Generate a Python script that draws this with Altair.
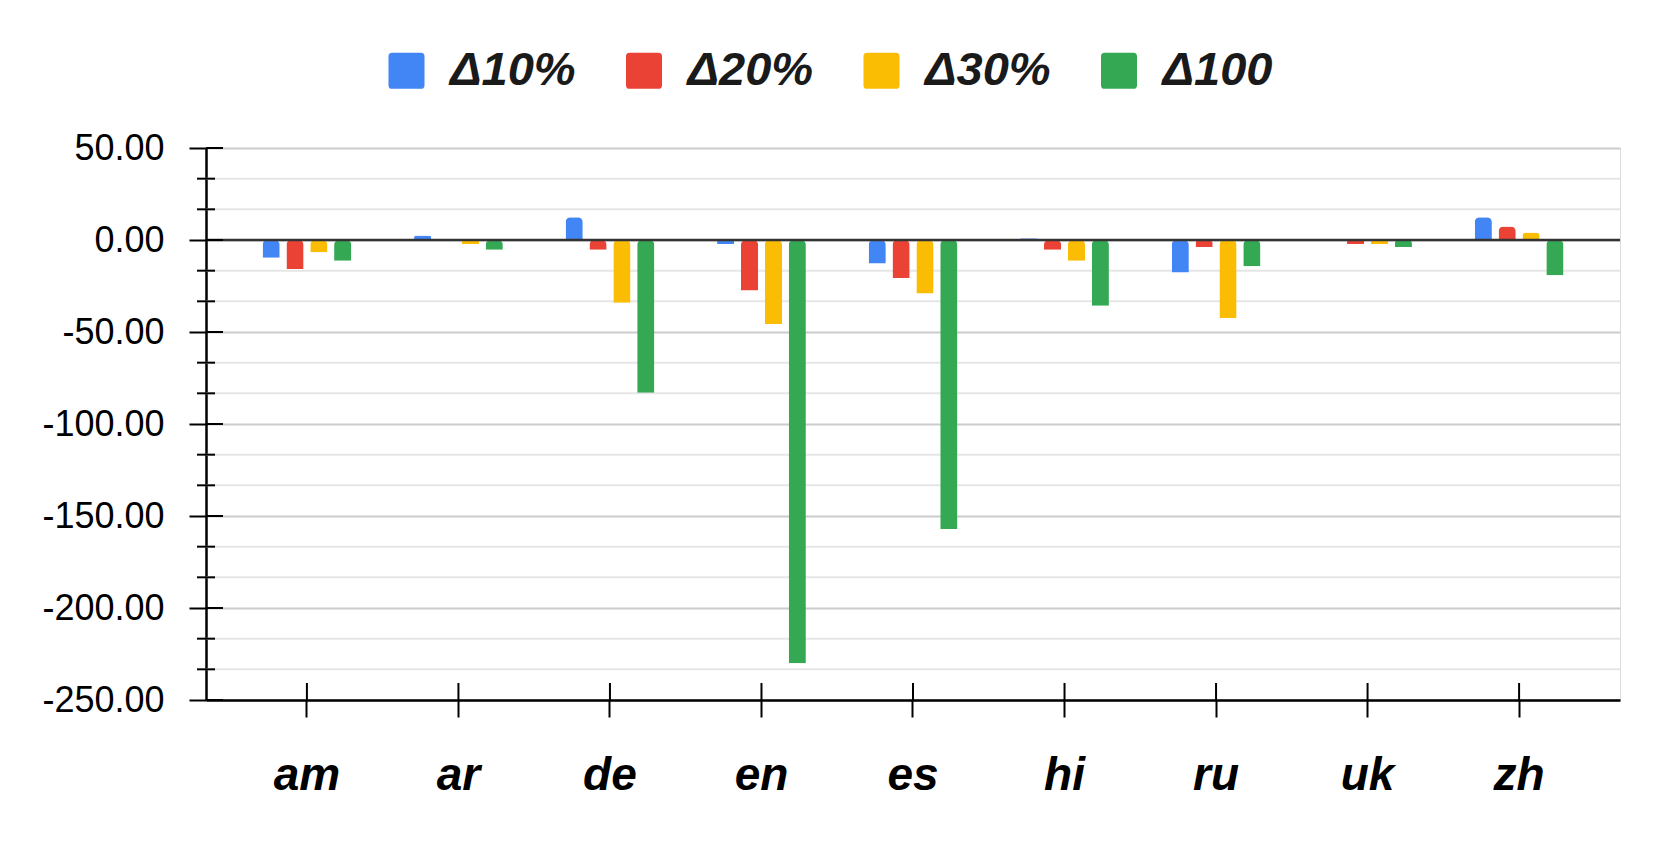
import altair as alt
import pandas as pd

langs = ["am", "ar", "de", "en", "es", "hi", "ru", "uk", "zh"]
series = ["Δ10%", "Δ20%", "Δ30%", "Δ100"]
d10 = [-9.7, 2.4, 12.4, -2.2, -12.8, 0.9, -17.6, 0.0, 12.4]
d20 = [-15.8, -0.3, -5.3, -27.4, -20.7, -5.3, -3.8, -2.2, 7.4]
d30 = [-6.7, -2.2, -34.1, -45.7, -29.1, -11.3, -42.4, -2.2, 4.1]
d100 = [-11.3, -5.3, -83.0, -230.0, -157.0, -35.7, -14.3, -3.8, -19.1]
colors = ["#4285F4", "#EA4335", "#FBBC04", "#34A853"]
major_ticks = [50, 0, -50, -100, -150, -200, -250]
minor_ticks = [33.33, 16.67, -16.67, -33.33, -66.67, -83.33, -116.67, -133.33,
               -166.67, -183.33, -216.67, -233.33]

W, H = 1414, 552
FONT = "Liberation Sans"

rows = []
for s, vals in zip(series, [d10, d20, d30, d100]):
    for lang, v in zip(langs, vals):
        rows.append({"lang": lang, "series": s, "value": v})
df = pd.DataFrame(rows)
df_major = pd.DataFrame({"value": major_ticks})
df_minor = pd.DataFrame({"value": minor_ticks})
df_zero = pd.DataFrame({"value": [0]})
df_lang = pd.DataFrame({"lang": langs})

yscale = alt.Scale(domain=[-250, 50], nice=False, zero=False)
xscale = alt.Scale(domain=langs, paddingInner=0.37, paddingOuter=0.351)

rounded_square = ("M-1,-0.8Q-1,-1,-0.8,-1L0.8,-1Q1,-1,1,-0.8L1,0.8Q1,1,0.8,1"
                  "L-0.8,1Q-1,1,-1,0.8Z")

minor_grid = alt.Chart(df_minor).mark_rule(color="#e6e6e6", strokeWidth=2).encode(
    y=alt.Y("value:Q", scale=yscale, title=None),
    x=alt.value(0), x2=alt.value(W),
)

bars = alt.Chart(df).mark_bar(cornerRadiusEnd=5).encode(
    x=alt.X("lang:N", scale=xscale, sort=langs, title=None,
            axis=alt.Axis(orient="bottom", labelFont=FONT, labelFontSize=46,
                          labelFontWeight="bold", labelFontStyle="italic",
                          labelColor="#000000", labelPadding=36, tickSize=17,
                          tickColor="#000000", tickWidth=2, domainColor="#000000",
                          domainWidth=2.5, grid=False, labelAngle=0)),
    xOffset=alt.XOffset("series:N", sort=series,
                        scale=alt.Scale(paddingInner=0.28, paddingOuter=0.14)),
    y=alt.Y("value:Q", scale=yscale, title=None,
            axis=alt.Axis(values=major_ticks, format=".2f",
                          labelExpr="replace(datum.label, '\u2212', '-')",
                          labelFont=FONT,
                          labelFontSize=36, labelColor="#000000", labelPadding=25,
                          tickSize=17, tickColor="#000000", tickWidth=2,
                          domainColor="#000000", domainWidth=2.5, grid=True,
                          gridColor="#cccccc", gridWidth=2)),
    color=alt.Color("series:N", sort=series,
                    scale=alt.Scale(domain=series, range=colors),
                    legend=alt.Legend(title=None, orient="none", legendX=177,
                                      legendY=-101, direction="horizontal",
                                      symbolType=rounded_square, symbolSize=1296,
                                      symbolStrokeWidth=0, symbolOpacity=1,
                                      labelFont=FONT, labelFontSize=47,
                                      labelFontWeight="bold", labelFontStyle="italic",
                                      labelColor="#1a1a1a", labelOffset=20,
                                      columnPadding=44.5, labelLimit=400, padding=0)),
)

zero_line = alt.Chart(df_zero).mark_rule(color="#333333", strokeWidth=2.5).encode(
    y=alt.Y("value:Q", scale=yscale, title=None),
    x=alt.value(0), x2=alt.value(W),
)

major_inner = alt.Chart(df_major).mark_rule(color="#000000", strokeWidth=2).encode(
    y=alt.Y("value:Q", scale=yscale, title=None),
    x=alt.value(0), x2=alt.value(17),
)

minor_ticks_layer = alt.Chart(df_minor).mark_rule(color="#000000", strokeWidth=2).encode(
    y=alt.Y("value:Q", scale=yscale, title=None),
    x=alt.value(-9), x2=alt.value(9),
)

x_inner = alt.Chart(df_lang).mark_rule(color="#000000", strokeWidth=2).encode(
    x=alt.X("lang:N", scale=xscale, sort=langs, title=None),
    y=alt.value(H), y2=alt.value(H - 17),
)

chart = alt.layer(minor_grid, bars, zero_line, major_inner, minor_ticks_layer, x_inner).properties(
    width=W, height=H,
    autosize=alt.AutoSizeParams(type="none"),
    padding={"left": 198, "top": 140, "right": 30, "bottom": 130},
).configure_view(stroke=None).configure(background="#ffffff")

chart.save("out.html", embed_options={"renderer": "svg", "actions": False})
